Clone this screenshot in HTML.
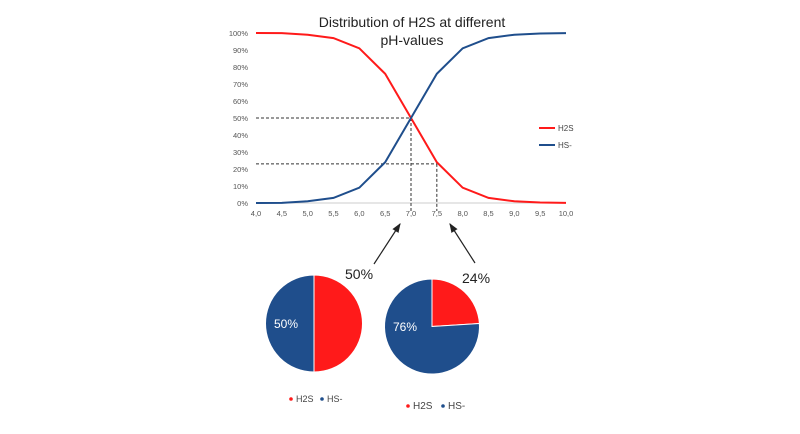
<!DOCTYPE html>
<html><head><meta charset="utf-8"><style>
body{margin:0;background:#fff;width:800px;height:434px;overflow:hidden;font-family:"Liberation Sans",sans-serif}
</style></head><body>
<svg id="c" width="800" height="434" style="display:block"></svg>
<script>
const phValues=[4.0,4.5,5.0,5.5,6.0,6.5,7.0,7.5,8.0,8.5,9.0,9.5,10.0];
const h2sValues=[100,99.9,99,97,91,76,50,24,9,3,1,0.3,0.1];
const hsValues=[0,0.1,1,3,9,24,50,76,91,97,99,99.7,99.9];
const yTicks=[0,10,20,30,40,50,60,70,80,90,100];
const pie1Values=[50,50];
const pie2Values=[24,76];
const NS="http://www.w3.org/2000/svg";
const svg=document.getElementById('c');
function el(t,a,txt){const e=document.createElementNS(NS,t);for(const k in a)e.setAttribute(k,a[k]);if(txt!==undefined)e.textContent=txt;svg.appendChild(e);return e;}
const X=v=>256+(v-4)*(310/6), Y=v=>203-v*1.7;
let t=el('text',{x:412,y:27,'text-anchor':'middle','font-size':14,fill:'#222'},'Distribution of H2S at different');

t=el('text',{x:412,y:45,'text-anchor':'middle','font-size':14,fill:'#222'},'pH-values');

yTicks.forEach(v=>{const e=el('text',{x:248,y:Y(v)+3,'text-anchor':'end','font-size':7.5,fill:'#555'},v+'%');
});
phValues.forEach(v=>{const e=el('text',{x:X(v),y:216,'text-anchor':'middle','font-size':7.5,fill:'#555'},v.toFixed(1).replace('.',','));
});
const ax=el('line',{x1:256,y1:203,x2:566,y2:203,stroke:'#ccc','stroke-width':1});

const d='stroke:#333;stroke-width:1;stroke-dasharray:3,2;fill:none';
[[X(4),Y(50),X(7),Y(50)],[X(4),Y(23),X(7.5),Y(23)],[X(7),Y(50),X(7),211],[X(7.5),Y(23),X(7.5),211]].forEach(p=>{
const e=el('line',{x1:p[0],y1:p[1],x2:p[2],y2:p[3],style:d});});
function line(vals,col,name){const e=el('polyline',{points:vals.map((v,i)=>X(phValues[i])+','+Y(v)).join(' '),fill:'none',stroke:col,'stroke-width':2});
}
line(h2sValues,'#ff1a1a','h2s-line');line(hsValues,'#1f4e8c','hs-line');
[['H2S','#ff1a1a',128],['HS-','#1f4e8c',145]].forEach(l=>{
const a=el('line',{x1:539,y1:l[2],x2:555,y2:l[2],stroke:l[1],'stroke-width':2});
const b=el('text',{x:558,y:l[2]+3,'font-size':8,fill:'#444'},l[0]);});
el('defs',{}).innerHTML='<marker id="ah" markerWidth="8" markerHeight="8" refX="7" refY="4" orient="auto"><path d="M0,1 L8,4 L0,7z" fill="#222"/></marker>';
[[374,264,400,224],[475,263,450,224]].forEach(p=>{const e=el('line',{x1:p[0],y1:p[1],x2:p[2],y2:p[3],stroke:'#222','stroke-width':1.2,'marker-end':'url(#ah)'});
});
t=el('text',{x:345,y:279,'font-size':14,fill:'#222'},'50%');
t=el('text',{x:462,y:283,'font-size':14,fill:'#222'},'24%');
function pie(cx,cy,r,vals,name,lbl,lx,ly){
const cols=['#ff1a1a','#1f4e8c'];let a=0;const tot=vals.reduce((s,v)=>s+v,0);
vals.forEach((v,i)=>{const a0=a,a1=a+v/tot*2*Math.PI;a=a1;
const p=(ang)=>[cx+r*Math.sin(ang),cy-r*Math.cos(ang)];const s=p(a0),e=p(a1);
const path=el('path',{d:`M${cx},${cy} L${s[0]},${s[1]} A${r},${r} 0 ${a1-a0>Math.PI?1:0} 1 ${e[0]},${e[1]} Z`,fill:cols[i],stroke:'#fff','stroke-width':1});
});
const tx=el('text',{x:lx,y:ly,'font-size':12,fill:'#fff'},lbl);}
pie(314,323.5,48.5,pie1Values,'pie1','50%',274,328);
pie(432,326.5,47.5,pie2Values,'pie2','76%',393,331);
function pleg(x,y,fs,gap,name){
const a=el('circle',{cx:x,cy:y-3,r:1.8,fill:'#ff1a1a'});
let b=el('text',{x:x+5,y:y,'font-size':fs,fill:'#444'},'H2S');
const c=el('circle',{cx:x+gap,cy:y-3,r:1.8,fill:'#1f4e8c'});
b=el('text',{x:x+gap+5,y:y,'font-size':fs,fill:'#444'},'HS-');}
pleg(291,402,9,31,'pie1-legend');pleg(408,409,10,35,'pie2-legend');
</script>
</body></html>
